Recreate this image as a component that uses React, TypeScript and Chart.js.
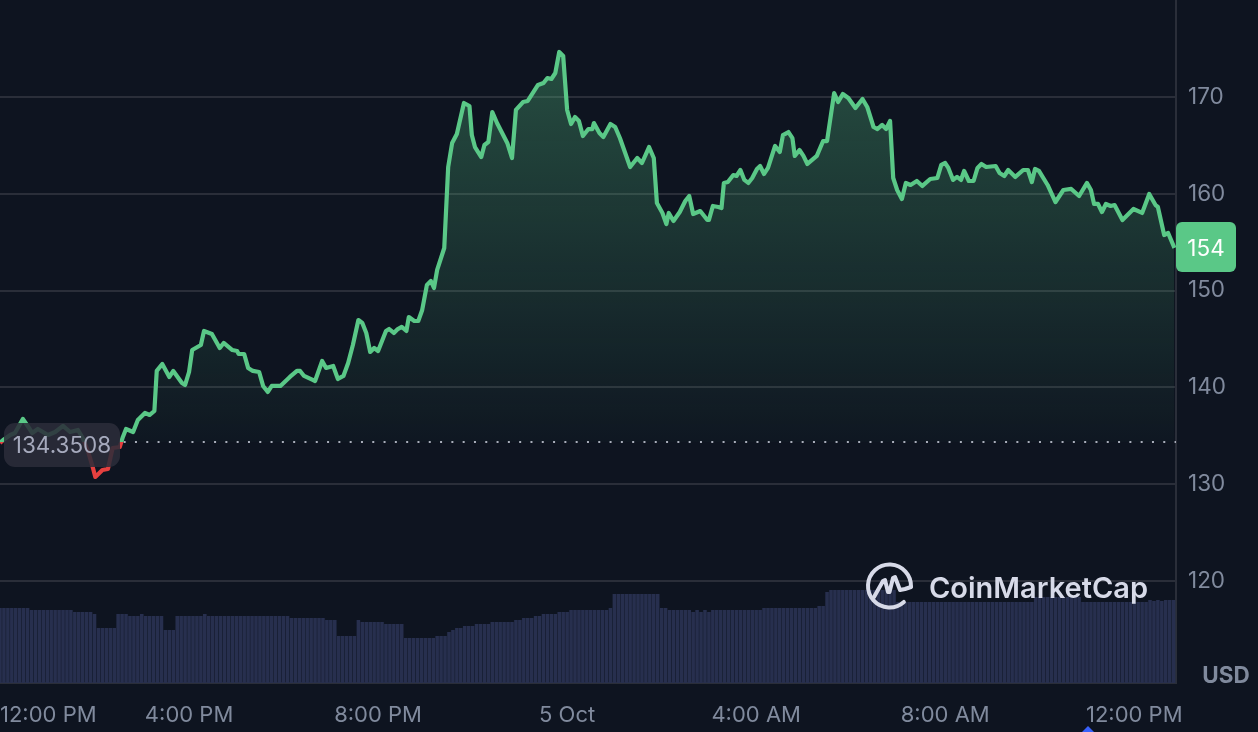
import { useEffect, useRef } from 'react';
import { Chart, registerables } from 'chart.js';

Chart.register(...registerables);

// minutes after 12:00 PM, one entry per price below
const minutes = [
  0, 4, 13, 19, 29, 36, 41, 48, 61, 70, 80, 89, 99, 105, 112, 118, 121, 130, 137, 143,
  152, 156, 160, 169, 175, 184, 190, 196, 199, 206, 215, 220, 231, 235, 240, 244, 255, 259, 269, 279,
  284, 295, 301, 303, 310, 315, 321, 329, 334, 340, 345, 356, 368, 377, 381, 386, 397, 400, 409, 414,
  423, 429, 436, 442, 448, 455, 460, 465, 470, 475, 480, 490, 494, 500, 505, 510, 516, 519, 526, 531,
  536, 542, 547, 551, 555, 564, 569, 574, 580, 589, 596, 599, 603, 611, 615, 620, 625, 631, 644, 650,
  655, 664, 670, 683, 690, 695, 700, 705, 710, 715, 720, 725, 730, 735, 740, 747, 752, 754, 761, 766,
  775, 781, 787, 800, 809, 815, 824, 830, 834, 841, 846, 849, 855, 863, 870, 875, 880, 889, 898, 900,
  905, 912, 916, 919, 924, 931, 935, 940, 945, 950, 955, 961, 965, 970, 975, 984, 990, 994, 1001, 1006,
  1009, 1015, 1020, 1025, 1037, 1045, 1050, 1059, 1064, 1070, 1077, 1086, 1095, 1101, 1109, 1114, 1120, 1125, 1130, 1134,
  1139, 1145, 1150, 1156, 1164, 1171, 1181, 1190, 1195, 1200, 1204, 1210, 1215, 1220, 1224, 1230, 1236, 1241, 1246, 1252,
  1264, 1269, 1275, 1280, 1289, 1299, 1305, 1310, 1314, 1319, 1330, 1340, 1350, 1360, 1370, 1380, 1385, 1389, 1394, 1399,
  1404, 1410, 1415, 1425, 1439, 1450, 1459, 1467, 1470, 1478, 1483, 1491,
];

const prices = [
  134.26, 134.57, 135.08, 135.29, 136.74, 135.91, 135.29, 135.7, 135.08, 135.39, 136.02, 135.39, 135.6, 134.77, 133.33, 131.68, 130.75, 131.47, 131.57, 133.74,
  133.84, 134.88, 135.7, 135.39, 136.63, 137.36, 137.15, 137.56, 141.7, 142.42, 141.08, 141.7, 140.46, 140.25, 141.59, 143.86, 144.38, 145.83, 145.52, 144.07,
  144.59, 143.86, 143.76, 143.45, 143.45, 142.01, 141.7, 141.59, 140.15, 139.53, 140.15, 140.15, 141.08, 141.7, 141.7, 141.18, 140.77, 140.66, 142.73, 142.01,
  142.21, 140.87, 141.18, 142.52, 144.38, 146.96, 146.65, 145.62, 143.66, 144.07, 143.76, 145.83, 146.03, 145.62, 146.03, 146.24, 145.83, 147.27, 146.86, 146.86,
  148.0, 150.58, 150.99, 150.27, 152.13, 154.4, 162.77, 165.25, 166.18, 169.38, 169.07, 166.07, 164.83, 163.8, 165.04, 165.35, 168.45, 167.31, 165.25, 163.7,
  168.66, 169.48, 169.59, 171.24, 171.45, 171.96, 171.86, 172.48, 174.65, 174.24, 168.66, 167.21, 167.93, 167.52, 165.97, 166.69, 166.69, 167.31, 166.28, 165.87,
  167.21, 166.9, 165.76, 162.77, 163.7, 163.18, 164.83, 163.7, 159.05, 158.02, 156.88, 158.02, 157.19, 158.12, 159.26, 159.77, 157.91, 158.22, 157.29, 157.29,
  158.74, 158.64, 158.53, 161.12, 161.22, 161.94, 161.84, 162.46, 161.43, 161.12, 161.63, 162.56, 162.87, 162.05, 162.67, 164.94, 164.32, 166.07, 166.38, 165.76,
  163.91, 164.52, 163.91, 163.08, 163.91, 165.45, 165.45, 170.41, 169.48, 170.31, 169.9, 168.86, 169.79, 168.97, 166.9, 166.69, 167.11, 166.69, 167.52, 161.63,
  160.39, 159.46, 161.12, 160.91, 161.32, 160.81, 161.53, 161.63, 162.98, 163.18, 162.67, 161.43, 161.74, 161.43, 162.36, 161.32, 161.32, 162.67, 163.08, 162.77,
  162.87, 162.15, 161.84, 162.46, 161.74, 162.46, 162.46, 161.22, 162.56, 162.36, 160.91, 159.15, 160.39, 160.5, 159.77, 161.12, 160.39, 158.95, 158.95, 158.12,
  158.95, 158.74, 158.84, 157.29, 158.43, 158.02, 159.98, 158.84, 158.64, 155.74, 155.95, 154.4,
];

// one bar every 5 minutes
const volumeStep = 5;
const volumes = [
  75, 75, 75, 75, 75, 75, 75, 75, 73, 73, 73, 73, 73, 73, 73, 73, 73, 73, 73, 71, 71, 71, 71, 71, 69,
  55, 55, 55, 55, 55, 69, 69, 69, 67, 67, 67, 69, 67, 67, 67, 67, 67, 53, 53, 53,
  67, 67, 67, 67, 67, 67, 67, 69, 67, 67, 67, 67, 67, 67, 67, 67, 67, 67, 67, 67, 67, 67, 67, 67, 67, 67, 67, 67, 67,
  65, 65, 65, 65, 65, 65, 65, 65, 65, 63, 63, 63, 47, 47, 47, 47, 47, 63, 61, 61, 61, 61, 61, 61, 59, 59, 59, 59, 59,
  45, 45, 45, 45, 45, 45, 45, 45, 47, 47, 47, 51, 53, 55, 55, 57, 57, 57, 59, 59, 59, 59, 61, 61, 61, 61, 61, 61, 63, 63,
  65, 65, 65, 67, 67, 69, 69, 69, 69, 71, 71, 71, 73, 73, 73, 73, 73, 73, 73, 73, 73, 73, 75,
  89, 89, 89, 89, 89, 89, 89, 89, 89, 89, 89, 89, 75, 75, 73, 73, 73, 73, 73, 73, 71, 73, 71, 73, 71,
  73, 73, 73, 73, 73, 73, 73, 73, 73, 73, 73, 73, 73, 75, 75, 75, 75, 75, 75, 75, 75, 75, 75, 75, 75, 75, 75, 77, 77, 91,
  93, 93, 93, 93, 93, 93, 93, 93, 93, 93, 93, 93, 93, 93, 93, 93, 93,
  81, 81, 81, 81, 81, 81, 81, 81, 81, 81, 81, 81, 81, 81, 81, 81, 81, 81, 81, 81, 81, 81, 81, 81, 81, 81, 81, 81, 81, 81, 81, 81, 81, 81, 81,
  86, 86, 86, 86, 86, 86, 86, 86, 86, 86, 86, 86,
  81, 81, 81, 81, 81, 81, 81, 81, 81, 81, 81, 81, 81, 81, 81, 81, 81,
  83, 82, 83, 82, 83, 83, 83,
];

const baseline = 134.3508;
const lastLabel = '154';
const priceTicks = [120, 130, 140, 150, 160, 170];
const timeTicks = [0, 240, 480, 720, 960, 1200, 1440, 1493];
const timeLabels = ['12:00 PM', '4:00 PM', '8:00 PM', '5 Oct', '4:00 AM', '8:00 AM', '12:00 PM', ''];

const GREEN = '#5ac887';
const RED = '#e5403f';
const BG = '#0e1420';
const GRID = '#2a2e39';
const MUTED = '#808a9d';
const FONT = 'Inter, "Noto Sans", sans-serif';

// pill, price tag, watermark and so on
const overlay = {
  id: 'overlay',
  afterDraw(chart: Chart) {
    const { ctx } = chart;
    ctx.save();

    // start price pill
    ctx.fillStyle = 'rgba(44,45,57,0.87)';
    ctx.beginPath();
    ctx.roundRect(4, 423, 116, 44, 11);
    ctx.fill();
    ctx.fillStyle = '#a6aabd';
    ctx.font = `22.5px ${FONT}`;
    ctx.textAlign = 'center';
    ctx.textBaseline = 'middle';
    ctx.fillText(String(baseline), 62, 446);

    // last price tag
    ctx.fillStyle = GREEN;
    ctx.beginPath();
    ctx.roundRect(1176, 222, 60, 50, 6);
    ctx.fill();
    ctx.fillStyle = '#ffffff';
    ctx.fillText(lastLabel, 1206, 249);

    // currency
    ctx.fillStyle = MUTED;
    ctx.font = `700 22.5px ${FONT}`;
    ctx.fillText('USD', 1226, 676);

    // watermark
    const wm = '#d7dae8';
    ctx.strokeStyle = wm;
    ctx.lineWidth = 4;
    ctx.lineCap = 'round';
    ctx.lineJoin = 'round';
    ctx.beginPath();
    ctx.arc(889.5, 586, 21.5, (48 * Math.PI) / 180, (362 * Math.PI) / 180);
    ctx.stroke();
    ctx.beginPath();
    ctx.moveTo(874, 597);
    ctx.lineTo(883, 581);
    ctx.lineTo(885, 580);
    ctx.lineTo(888, 592);
    ctx.lineTo(889.5, 592);
    ctx.lineTo(893, 578);
    ctx.lineTo(895, 577);
    ctx.lineTo(900, 590);
    ctx.lineTo(905, 589);
    ctx.lineTo(911, 587);
    ctx.stroke();
    ctx.fillStyle = wm;
    ctx.font = `600 29px ${FONT}`;
    ctx.textAlign = 'left';
    ctx.textBaseline = 'alphabetic';
    ctx.fillText('CoinMarketCap', 929, 598);

    // small event marker under the axis
    ctx.fillStyle = '#3861fb';
    ctx.beginPath();
    ctx.moveTo(1088, 726);
    ctx.lineTo(1095, 733);
    ctx.lineTo(1081, 733);
    ctx.closePath();
    ctx.fill();

    ctx.restore();
  },
};

export default function App() {
  const canvasRef = useRef<HTMLCanvasElement>(null);

  useEffect(() => {
    if (!canvasRef.current) return;
    document.body.style.margin = '0';
    document.body.style.background = BG;

    const chart = new Chart(canvasRef.current, {
      type: 'line',
      data: {
        datasets: [
          {
            data: minutes.map((m, i) => ({ x: m, y: prices[i] })),
            borderColor: GREEN,
            borderWidth: 4.2,
            borderJoinStyle: 'round',
            pointRadius: 0,
            tension: 0,
            fill: { target: { value: baseline }, above: 'transparent', below: 'transparent' },
            order: 0,
          },
          {
            data: [
              { x: 157, y: baseline },
              { x: 1493, y: baseline },
            ],
            borderColor: '#a9adba',
            borderWidth: 2,
            borderDash: [2, 9.3],
            pointRadius: 0,
            fill: false,
            order: 1,
          },
          {
            type: 'bar',
            data: volumes.map((v, i) => ({ x: i * volumeStep, y: v })),
            yAxisID: 'vol',
            backgroundColor: '#272f4e',
            categoryPercentage: 1,
            barPercentage: 0.9,
            order: 2,
          },
        ],
      } as any,
      options: {
        responsive: false,
        animation: false,
        layout: { padding: 0, autoPadding: false },
        plugins: { legend: { display: false }, tooltip: { enabled: false } },
        scales: {
          x: {
            type: 'linear',
            min: 0,
            max: 1493,
            offset: false,
            grid: { display: false, drawTicks: false, offset: false },
            border: { display: true, color: GRID, width: 2 },
            afterBuildTicks: (s) => {
              s.ticks = timeTicks.map((value) => ({ value }));
            },
            afterFit: (s) => {
              s.height = 49;
              s.paddingLeft = 0;
              s.paddingRight = 0;
            },
            ticks: {
              autoSkip: false,
              maxRotation: 0,
              align: 'inner',
              padding: 19,
              color: MUTED,
              font: { size: 22, family: FONT },
              callback: (_v, i) => timeLabels[i],
            },
          },
          y: {
            position: 'right',
            min: 109.46,
            max: 180.02,
            grid: { color: GRID, lineWidth: 2, drawTicks: false },
            border: { display: true, color: GRID, width: 2 },
            afterBuildTicks: (s) => {
              s.ticks = priceTicks.map((value) => ({ value }));
            },
            afterFit: (s) => {
              s.width = 82;
              s.paddingTop = 0;
              s.paddingBottom = 0;
            },
            ticks: {
              padding: 12,
              color: MUTED,
              font: { size: 22.5, family: FONT },
              callback: (v) => String(v),
            },
          },
          // volume is in millions, hidden axis
          vol: { display: false, position: 'right', min: 0, max: 683 },
        },
      },
      plugins: [overlay],
    });

    // gradients need the scale pixels, so set them after the first layout
    const ctx = chart.ctx;
    const baseY = chart.scales.y.getPixelForValue(baseline);
    const h = chart.chartArea.bottom;
    const stop = baseY / h;
    const stroke = ctx.createLinearGradient(0, 0, 0, h);
    stroke.addColorStop(0, GREEN);
    stroke.addColorStop(stop, GREEN);
    stroke.addColorStop(stop, RED);
    stroke.addColorStop(1, RED);
    const area = ctx.createLinearGradient(0, chart.scales.y.getPixelForValue(174.65), 0, baseY);
    area.addColorStop(0, 'rgba(90,200,135,0.32)');
    area.addColorStop(1, 'rgba(90,200,135,0.02)');
    const ds = chart.data.datasets[0] as any;
    ds.borderColor = stroke;
    ds.fill = { target: { value: baseline }, above: area, below: 'transparent' };
    chart.update();

    return () => chart.destroy();
  }, []);

  return (
    <div style={{ width: 1258, height: 732, background: BG }}>
      <canvas ref={canvasRef} width={1258} height={732} style={{ display: 'block' }} />
    </div>
  );
}
